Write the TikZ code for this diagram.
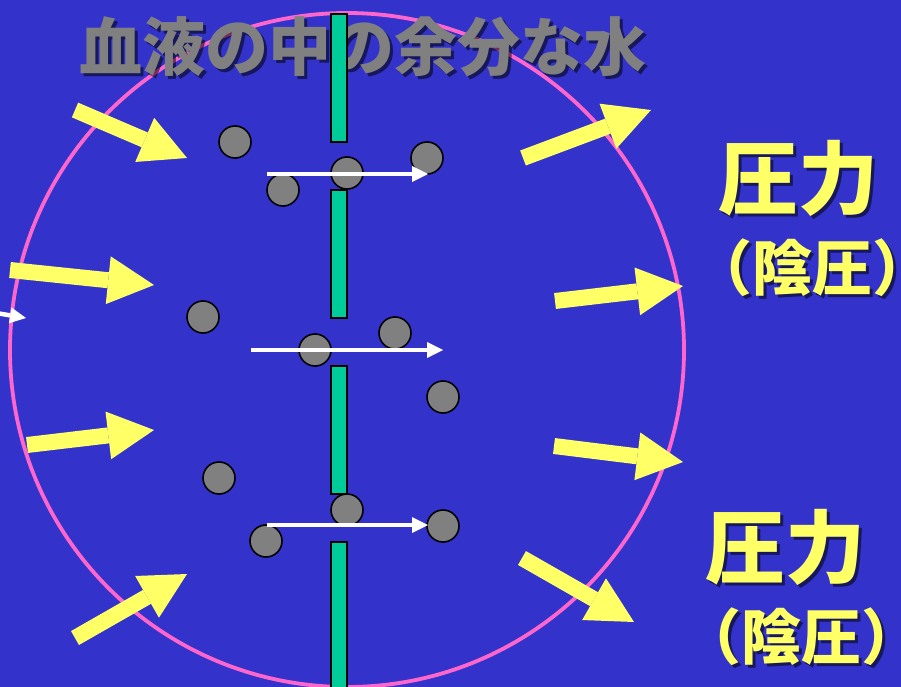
\documentclass[tikz,border=0pt]{standalone}
\usepackage{fontspec}
\newfontfamily\cjk{Noto Sans CJK JP}
\usetikzlibrary{arrows.meta,calc}
\definecolor{bg}{HTML}{3333CC}
\definecolor{rim}{HTML}{FF66CC}
\definecolor{wall}{HTML}{00CC99}
\definecolor{yel}{HTML}{FFFF66}
\definecolor{dot}{HTML}{808080}
\tikzset{
  pushbig/.style={draw=yel, line width=16pt, -{Triangle[length=46pt,width=48pt,line width=0pt]}},
  flow/.style={draw=white, line width=4.5pt, -{Triangle[length=16pt,width=16pt,line width=0pt]}},
  particle/.style={circle, draw=black, fill=dot, line width=1.6pt, minimum size=32pt, inner sep=0pt},
  wallbar/.style={draw=black, fill=wall, line width=1.6pt},
  rimline/.style={draw=rim, line width=3.8pt},
  titletxt/.style={inner sep=0pt, font=\cjk\bfseries\fontsize{63pt}{63pt}\selectfont},
  bigtxt/.style={inner sep=0pt, font=\cjk\bfseries\fontsize{80pt}{80pt}\selectfont},
  subtxt/.style={inner sep=0pt, font=\cjk\bfseries\fontsize{60pt}{60pt}\selectfont},
}
% text with a soft dark drop shadow
\newcommand{\shadowtext}[4]{%
  \node[#1, text=black, opacity=0.55] at ($(#2)+(3,3)$) {#4};
  \node[#1, text=#3] (#2-t) at (#2) {#4};}
\begin{document}
\begin{tikzpicture}[x=1pt, y=-1pt]
  % background
  \fill[bg] (0,0) rectangle (901,687);
  \useasboundingbox (0,0) rectangle (901,687);
  % cell outline
  \draw[rimline] (347,350) circle[radius=337];
  % yellow pushing arrows
  \coordinate (l1a) at (75,110);  \coordinate (l1b) at (187,158);
  \coordinate (l2a) at (10,270);  \coordinate (l2b) at (154,285);
  \coordinate (l3a) at (27,445);  \coordinate (l3b) at (154,430);
  \coordinate (l4a) at (75,638);  \coordinate (l4b) at (187,574);
  \coordinate (r1a) at (523,158); \coordinate (r1b) at (651,110);
  \coordinate (r2a) at (555,301); \coordinate (r2b) at (683,286);
  \coordinate (r3a) at (554,446); \coordinate (r3b) at (683,462);
  \coordinate (r4a) at (522,558); \coordinate (r4b) at (634,622);
  \foreach \a in {l1,l2,l3,l4,r1,r2,r3,r4}
    \draw[pushbig] (\a a) -- (\a b);
  % title
  \coordinate (title) at (363,47);
  \shadowtext{titletxt}{title}{dot}{血液の中の余分な水}
  % membrane segments
  \foreach \y in {14,190,366}
    \draw[wallbar] (331,\y) rectangle (347,\y+128);
  \draw[wallbar] (331,542) rectangle (347,700);
  % water particles
  \node[particle] (p1) at (235,142) {};
  \node[particle] (p2) at (283,190) {};
  \node[particle] (p3) at (347,173) {};
  \node[particle] (p4) at (427,158) {};
  \node[particle] (p5) at (203,317) {};
  \node[particle] (p6) at (315,350) {};
  \node[particle] (p7) at (395,333) {};
  \node[particle] (p8) at (443,397) {};
  \node[particle] (p9) at (219,478) {};
  \node[particle] (p10) at (347,510) {};
  \node[particle] (p11) at (266,541) {};
  \node[particle] (p12) at (443,526) {};
  % flow arrows
  \coordinate (f1a) at (267,174); \coordinate (f1b) at (428,174);
  \coordinate (f2a) at (251,350); \coordinate (f2b) at (443,350);
  \coordinate (f3a) at (267,525); \coordinate (f3b) at (428,525);
  \coordinate (f4a) at (-10,312); \coordinate (f4b) at (26,318);
  \foreach \a in {f1,f2,f3,f4}
    \draw[flow] (\a a) -- (\a b);
  % pressure labels
  \coordinate (pa) at (798,178);
  \shadowtext{bigtxt}{pa}{yel}{圧力}
  \coordinate (pb) at (812,268);
  \shadowtext{subtxt}{pb}{yel}{（陰圧）}
  \coordinate (pc) at (785,547);
  \shadowtext{bigtxt}{pc}{yel}{圧力}
  \coordinate (pd) at (801,637);
  \shadowtext{subtxt}{pd}{yel}{（陰圧）}
\end{tikzpicture}
\end{document}
